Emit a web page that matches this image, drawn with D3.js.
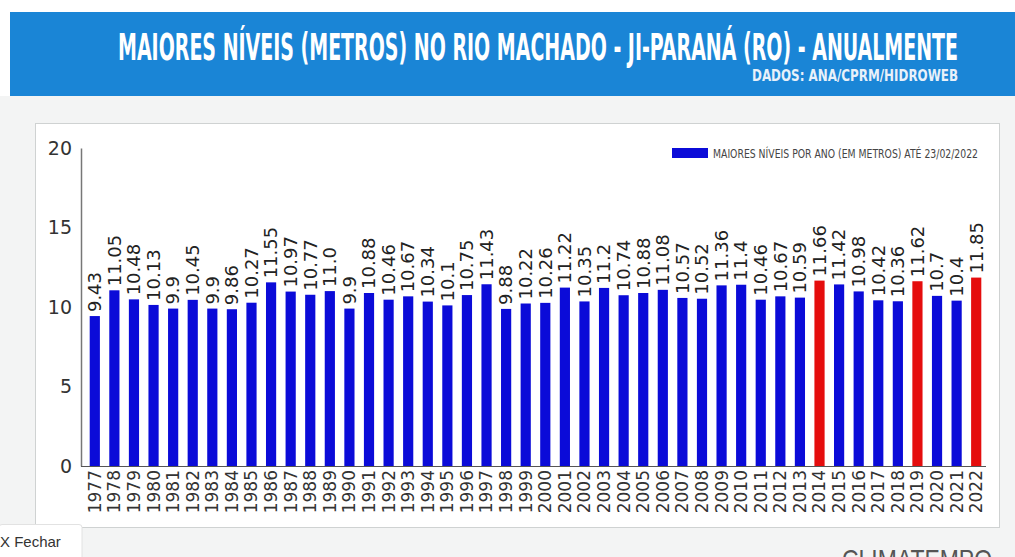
<!DOCTYPE html>
<html>
<head>
<meta charset="utf-8">
<script src="https://cdn.jsdelivr.net/npm/d3@7"></script>
<style>
  body { margin: 0; background: #fff; overflow: hidden; }
  svg { display: block; }
</style>
</head>
<body>
<div id="chart"></div>
<script>
// years and highest level of each year (metres)
const anos = [1977,1978,1979,1980,1981,1982,1983,1984,1985,1986,1987,1988,1989,1990,1991,1992,
  1993,1994,1995,1996,1997,1998,1999,2000,2001,2002,2003,2004,2005,2006,2007,2008,2009,2010,
  2011,2012,2013,2014,2015,2016,2017,2018,2019,2020,2021,2022];
const niveis = [9.43,11.05,10.48,10.13,9.9,10.45,9.9,9.86,10.27,11.55,10.97,10.77,11.0,9.9,10.88,10.46,
  10.67,10.34,10.1,10.75,11.43,9.88,10.22,10.26,11.22,10.35,11.2,10.74,10.88,11.08,10.57,10.52,11.36,11.4,
  10.46,10.67,10.59,11.66,11.42,10.98,10.42,10.36,11.62,10.7,10.4,11.85];
const rotulos = ["9.43","11.05","10.48","10.13","9.9","10.45","9.9","9.86","10.27","11.55","10.97","10.77","11.0","9.9","10.88","10.46",
  "10.67","10.34","10.1","10.75","11.43","9.88","10.22","10.26","11.22","10.35","11.2","10.74","10.88","11.08","10.57","10.52","11.36","11.4",
  "10.46","10.67","10.59","11.66","11.42","10.98","10.42","10.36","11.62","10.7","10.4","11.85"];
const destaque = [2014, 2019, 2022];
const yTicks = [0, 5, 10, 15, 20];

const W = 1015, H = 557;
const svg = d3.select("#chart").append("svg").attr("width", W).attr("height", H);

// page background
svg.append("rect").attr("width", W).attr("height", H).attr("fill", "#f3f4f4");
svg.append("rect").attr("width", W).attr("height", 12).attr("fill", "#fff");
svg.append("rect").attr("x", 0).attr("y", 12).attr("width", 10).attr("height", 84).attr("fill", "#fff");

// header
svg.append("rect").attr("x", 10).attr("y", 12).attr("width", W - 10).attr("height", 84).attr("fill", "#1a85d6");
svg.append("text")
  .attr("x", 118).attr("y", 60)
  .attr("textLength", 840).attr("lengthAdjust", "spacingAndGlyphs")
  .style("font-family", "DejaVu Sans Condensed, DejaVu Sans")
  .style("font-weight", "bold").style("font-size", "37px")
  .attr("fill", "#fff")
  .text("MAIORES NÍVEIS (METROS) NO RIO MACHADO - JI-PARANÁ (RO) - ANUALMENTE");
svg.append("text")
  .attr("x", 752).attr("y", 81)
  .attr("textLength", 206).attr("lengthAdjust", "spacingAndGlyphs")
  .style("font-family", "DejaVu Sans Condensed, DejaVu Sans")
  .style("font-weight", "bold").style("font-size", "15px")
  .attr("fill", "#e8f1fa")
  .text("DADOS: ANA/CPRM/HIDROWEB");

// chart panel
svg.append("rect").attr("x", 35.5).attr("y", 123.5).attr("width", 964).attr("height", 404)
  .attr("fill", "#fff").attr("stroke", "#cfd2d2");

const x = d3.scaleBand().domain(anos).range([85, 986]).paddingInner(0.48).paddingOuter(0.24);
const y = d3.scaleLinear().domain([0, 20]).range([466, 148]);

const g = svg.append("g");

// y axis
const yAxis = g.append("g").attr("transform", "translate(81,0)")
  .call(d3.axisLeft(y).tickValues(yTicks).tickSize(0).tickPadding(9));
yAxis.select(".domain").attr("stroke", "#777").attr("stroke-width", 1.5);
yAxis.selectAll("text").style("font-family", "DejaVu Sans").style("font-size", "19px").attr("fill", "#333");

// x axis
const xAxis = g.append("g").attr("transform", "translate(0,466)")
  .call(d3.axisBottom(x).tickSize(0).tickSizeOuter(0));
xAxis.select(".domain").attr("stroke", "#555").attr("d", "M81,0.5H986");
xAxis.selectAll("text")
  .attr("transform", "rotate(-90)")
  .attr("x", -4).attr("y", 0).attr("dy", "0.35em")
  .style("text-anchor", "end")
  .style("font-family", "DejaVu Sans").style("font-size", "17px").attr("fill", "#333");

// bars
g.selectAll("rect.bar").data(anos).enter().append("rect")
  .attr("class", "bar")
  .attr("x", d => x(d))
  .attr("width", x.bandwidth())
  .attr("y", (d, i) => y(niveis[i]))
  .attr("height", (d, i) => y(0) - y(niveis[i]))
  .attr("fill", d => destaque.includes(d) ? "#e50d0d" : "#0b0bd8");

// value labels
g.selectAll("text.val").data(anos).enter().append("text")
  .attr("class", "val")
  .attr("transform", (d, i) => "translate(" + (x(d) + x.bandwidth() / 2) + "," + (y(niveis[i]) - 4) + ") rotate(-90)")
  .attr("dy", "0.35em")
  .style("font-family", "DejaVu Sans").style("font-size", "18px").attr("fill", "#222")
  .text((d, i) => rotulos[i]);

// legend
svg.append("rect").attr("x", 672).attr("y", 148).attr("width", 36).attr("height", 10).attr("fill", "#0b0bd8");
svg.append("text")
  .attr("x", 713).attr("y", 158)
  .attr("textLength", 265).attr("lengthAdjust", "spacingAndGlyphs")
  .style("font-family", "DejaVu Sans Condensed, DejaVu Sans")
  .style("font-size", "12px").attr("fill", "#444")
  .text("MAIORES NÍVEIS POR ANO (EM METROS) ATÉ 23/02/2022");

// page overlays
svg.append("rect").attr("x", -1).attr("y", 524.5).attr("width", 83).attr("height", 40)
  .attr("rx", 3).attr("fill", "#fff").attr("stroke", "#e2e2e2");
svg.append("text").attr("x", 0).attr("y", 547)
  .style("font-family", "Liberation Sans, Arial").style("font-size", "15px").attr("fill", "#333")
  .text("X Fechar");
svg.append("text").attr("x", 842).attr("y", 569)
  .attr("textLength", 150).attr("lengthAdjust", "spacingAndGlyphs")
  .style("font-family", "Liberation Sans, Arial").style("font-size", "28px").attr("fill", "#555")
  .text("CLIMATEMPO");
</script>
</body>
</html>
